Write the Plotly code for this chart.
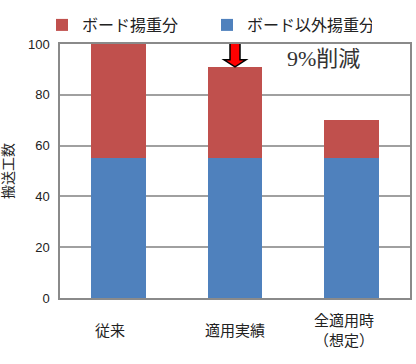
import plotly.graph_objects as go

categories = ["従来", "適用実績", "全適用時<br>（想定）"]
other_values = [55, 55, 55]          # ボード以外揚重分 (blue, bottom)
board_values = [45, 36, 15]          # ボード揚重分 (red, top)
series_names = ["ボード揚重分", "ボード以外揚重分"]
y_ticks = [0, 20, 40, 60, 80, 100]
y_title = "搬送工数"
note_text = "9%削減"

RED = "#C0504D"
BLUE = "#4F81BD"
FONT = "Liberation Sans, Noto Sans CJK JP, sans-serif"

x_idx = list(range(len(categories)))

fig = go.Figure()
fig.add_trace(go.Bar(x=x_idx, y=other_values, name=series_names[1],
                     marker=dict(color=BLUE, line=dict(width=0)),
                     width=0.47))
fig.add_trace(go.Bar(x=x_idx, y=board_values, name=series_names[0],
                     marker=dict(color=RED, line=dict(width=0)),
                     width=0.47))

totals = [a + b for a, b in zip(other_values, board_values)]

# red down arrow above the second bar (pixel-sized, anchored on bar top)
fig.add_shape(type="path", xref="x", yref="y",
              xsizemode="pixel", ysizemode="pixel",
              xanchor=x_idx[1], yanchor=totals[1],
              path="M-5,25 L5,25 L5,7 L11,7 L0,0 L-11,7 L-5,7 Z",
              fillcolor="#FF0000", line=dict(color="black", width=1.5))

fig.add_annotation(x=x_idx[1] + 0.76, y=94.3, xref="x", yref="y",
                   text=note_text, showarrow=False,
                   font=dict(family="Liberation Serif, Noto Sans CJK JP, serif",
                             size=22, color="#333"))

# category labels (vertically centred like the original)
for i, c in enumerate(categories):
    fig.add_annotation(x=x_idx[i] - (0.07 if i != 1 else 0), y=0, xref="x", yref="paper",
                       yshift=-32, yanchor="middle", text=c, showarrow=False,
                       font=dict(family=FONT, size=15, color="#222"))

fig.update_layout(
    width=416, height=364,
    margin=dict(l=60, r=6, t=44, b=66, autoexpand=False),
    barmode="stack",
    plot_bgcolor="white", paper_bgcolor="white",
    font=dict(family=FONT, size=13, color="#222"),
    showlegend=True,
    legend=dict(orientation="h", xref="container", yref="container",
                x=42 / 416, y=1 - 8 / 364, xanchor="left", yanchor="top",
                traceorder="reversed",
                font=dict(size=16, color="#222"), itemwidth=30,
                entrywidth=120, entrywidthmode="pixels",
                bgcolor="rgba(0,0,0,0)"),
    xaxis=dict(range=[-0.5, 2.5], showticklabels=False, showgrid=False,
               showline=True, linecolor="#8a8a8a", linewidth=1.5, mirror=True,
               zeroline=False, fixedrange=True),
    yaxis=dict(range=[0, 100], tickvals=y_ticks, showgrid=True,
               gridcolor="#a0a0a0", gridwidth=1.5, showline=True,
               linecolor="#8a8a8a", linewidth=1.5, mirror=True,
               zeroline=False, ticks="", ticklabelstandoff=6,
               tickfont=dict(size=13, color="#222"),
               title=dict(text=y_title, standoff=11,
                          font=dict(size=14, color="#222"))),
)

fig.write_html("out.html")
